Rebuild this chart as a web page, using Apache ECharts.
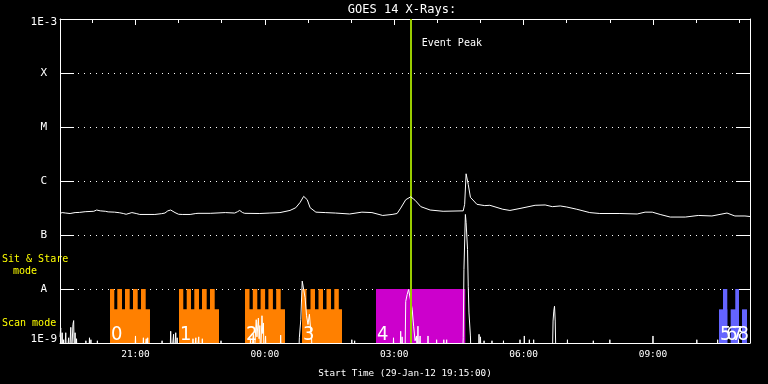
<!DOCTYPE html>
<html><head><meta charset="utf-8">
<script src="https://cdn.jsdelivr.net/npm/echarts@6/dist/echarts.min.js"></script>
<style>html,body{margin:0;padding:0;background:#000}#c{width:768px;height:384px}</style>
</head><body><div id="c"></div><script>
// ---------- data ----------
const startTime = "19:15", endTime = "11:15";
const xTickHours = ["20:00","21:00","22:00","23:00","00:00","01:00","02:00","03:00","04:00","05:00","06:00","07:00","08:00","09:00","10:00","11:00"];
const xLabelHours = ["21:00","00:00","03:00","06:00","09:00"];
const yLevelExp = [-9,-8,-7,-6,-5,-4,-3];
const yLevelLabels = ["1E-9","A","B","C","M","X","1E-3"];

// GOES 1-8 A channel
const longTime = ["19:15","19:18","19:23","19:29","19:36","19:42","19:50","20:02","20:06","20:11","20:18","20:22","20:31","20:38","20:43","20:47","20:55","21:01","21:06","21:27","21:36","21:41","21:45","21:49","21:55","22:00","22:05","22:16","22:24","22:27","22:44","23:05","23:18","23:22","23:25","23:29","23:32","23:53","00:07","00:21","00:35","00:43","00:49","00:54","00:59","01:03","01:11","01:24","01:38","01:58","02:15","02:29","02:44","02:57","03:04","03:09","03:16","03:23","03:29","03:37","03:50","04:08","04:36","04:38","04:40","04:43","04:46","04:55","05:06","05:13","05:31","05:41","05:55","06:16","06:30","06:40","06:51","07:00","07:14","07:32","07:46","08:14","08:38","08:49","08:59","09:10","09:24","09:45","10:03","10:22","10:43","10:54","11:08","11:15"];
const longFlux = [2.5e-7,2.6e-7,2.55e-7,2.5e-7,2.6e-7,2.62e-7,2.7e-7,2.75e-7,2.9e-7,2.8e-7,2.75e-7,2.68e-7,2.65e-7,2.58e-7,2.5e-7,2.42e-7,2.6e-7,2.5e-7,2.4e-7,2.4e-7,2.48e-7,2.55e-7,2.8e-7,2.9e-7,2.6e-7,2.42e-7,2.4e-7,2.4e-7,2.5e-7,2.52e-7,2.52e-7,2.6e-7,2.55e-7,2.7e-7,2.85e-7,2.6e-7,2.52e-7,2.5e-7,2.55e-7,2.6e-7,2.85e-7,3.2e-7,4.0e-7,5.2e-7,4.5e-7,3.2e-7,2.65e-7,2.6e-7,2.55e-7,2.45e-7,2.65e-7,2.6e-7,2.3e-7,2.4e-7,2.5e-7,3.15e-7,4.5e-7,5.1e-7,4.4e-7,3.35e-7,2.9e-7,2.75e-7,2.8e-7,3.7e-7,1.36e-6,8.6e-7,5.0e-7,3.7e-7,3.5e-7,3.55e-7,3.0e-7,2.85e-7,3.1e-7,3.55e-7,3.6e-7,3.35e-7,3.45e-7,3.3e-7,3.0e-7,2.6e-7,2.5e-7,2.5e-7,2.45e-7,2.65e-7,2.65e-7,2.4e-7,2.15e-7,2.15e-7,2.3e-7,2.25e-7,2.55e-7,2.25e-7,2.25e-7,2.2e-7];

// GOES 0.5-4 A channel (mostly below 1E-9; 5e-10 = below the axis floor)
const shortTime = ["19:15","19:16","19:17","19:18","19:19","19:20","19:21","19:22","19:23","19:24","19:26","19:27","19:28","19:29","19:30","19:31","19:32","19:33","19:34","19:35","19:36","19:37","19:38","19:39",
 "19:50","19:51","19:52","19:55","19:56","19:57","19:58","19:59","20:06","20:07","20:08",
 "20:59","21:00","21:01","21:10","21:11","21:12","21:14","21:15","21:16","21:17","21:18",
 "21:36","21:37","21:38","21:48","21:49","21:50","21:52","21:53","21:54","21:55","21:56","21:57","21:58","21:59",
 "22:19","22:20","22:21","22:23","22:24","22:25","22:27","22:28","22:29","22:32","22:33","22:34","22:58","22:59","23:00",
 "23:39","23:40","23:41","23:43","23:44","23:45","23:47","23:48","23:49","23:51","23:52","23:53","23:54","23:55","23:56","23:57","23:58","23:59","00:00","00:01","00:02",
 "00:21","00:22","00:23","00:47","00:48","00:50","00:52","00:54","00:56","00:58","01:00","01:02","01:04","01:05","01:06",
 "02:00","02:01","02:02","02:04","02:05","02:06","02:58","02:59","03:00","03:08","03:09","03:10","03:11","03:12",
 "03:15","03:16","03:18","03:20","03:22","03:25","03:27","03:29","03:31","03:32","03:33","03:34","03:35","03:36","03:37",
 "03:46","03:47","03:48","03:58","03:59","04:00","04:08","04:09","04:10","04:12","04:13","04:14",
 "04:35","04:36","04:37","04:39","04:40","04:42","04:43","04:44","04:46","04:47",
 "04:57","04:58","04:59","05:00","05:01","05:04","05:05","05:06","05:15","05:16","05:17","05:31","05:32","05:33",
 "05:54","05:55","05:56","06:00","06:01","06:02","06:07","06:08","06:09","06:13","06:14","06:15",
 "06:40","06:41","06:42","06:43","06:44","06:45","07:00","07:01","07:02","07:36","07:37","07:38","07:59","08:00","08:01",
 "08:59","09:00","09:01","10:00","10:01","10:02","10:29","10:30","10:31","10:58","10:59","11:00","11:15"];
const shortFlux = [1.3e-9,1.9e-9,5e-10,1.55e-9,5e-10,1.15e-9,5e-10,5e-10,1.55e-9,5e-10,5e-10,1.25e-9,5e-10,5e-10,1.95e-9,5e-10,5e-10,2.2e-9,2.6e-9,5e-10,1.55e-9,5e-10,1.2e-9,5e-10,
 5e-10,1.1e-9,5e-10,5e-10,1.25e-9,5e-10,1.15e-9,5e-10,5e-10,1.1e-9,5e-10,
 5e-10,1.35e-9,5e-10,5e-10,1.25e-9,5e-10,5e-10,1.2e-9,5e-10,1.25e-9,5e-10,
 5e-10,1.1e-9,5e-10,5e-10,1.65e-9,5e-10,5e-10,1.45e-9,5e-10,5e-10,1.55e-9,5e-10,1.25e-9,5e-10,
 5e-10,1.2e-9,5e-10,5e-10,1.25e-9,5e-10,5e-10,1.3e-9,5e-10,5e-10,1.2e-9,5e-10,5e-10,1.1e-9,5e-10,
 5e-10,1.2e-9,5e-10,5e-10,1.45e-9,5e-10,5e-10,2.7e-9,1.3e-9,2.9e-9,1.2e-9,2.1e-9,5e-10,5e-10,3.2e-9,1.5e-9,2.35e-9,5e-10,5e-10,1.35e-9,5e-10,
 5e-10,1.4e-9,5e-10,5e-10,1.25e-9,2.7e-9,1.4e-8,1.3e-8,6.9e-9,3.2e-9,2.2e-9,3.4e-9,1.6e-9,1.25e-9,5e-10,
 5e-10,1.15e-9,5e-10,5e-10,1.1e-9,5e-10,5e-10,1.25e-9,5e-10,5e-10,1.65e-9,5e-10,1.3e-9,5e-10,
 5e-10,5.9e-9,7.9e-9,9.8e-9,9.0e-9,4.2e-9,2.05e-9,1.1e-9,1.35e-9,5e-10,2.05e-9,5e-10,5e-10,1.35e-9,5e-10,
 5e-10,1.35e-9,5e-10,5e-10,1.15e-9,5e-10,5e-10,1.15e-9,5e-10,5e-10,1.15e-9,5e-10,
 5e-10,1.25e-9,2.3e-8,2.4e-7,1.7e-7,5.4e-8,1.1e-8,3.6e-9,1.35e-9,5e-10,
 5e-10,1.45e-9,5e-10,1.3e-9,5e-10,5e-10,1.1e-9,5e-10,5e-10,1.1e-9,5e-10,5e-10,1.1e-9,5e-10,
 5e-10,1.15e-9,5e-10,5e-10,1.35e-9,5e-10,5e-10,1.15e-9,5e-10,5e-10,1.15e-9,5e-10,
 5e-10,2.55e-9,3.9e-9,4.8e-9,2.55e-9,5e-10,5e-10,1.15e-9,5e-10,5e-10,1.1e-9,5e-10,5e-10,1.15e-9,5e-10,
 5e-10,1.35e-9,5e-10,5e-10,1.15e-9,5e-10,5e-10,1.15e-9,5e-10,5e-10,1.15e-9,5e-10,5e-10];

// observation blocks: scan mode parts and sit & stare parts
const scanLevel = 4.2e-9, stareLevel = 1e-8;
const scanStart = ["20:24:34","22:00:34","23:32:23","00:51:42","10:31:54","10:48:06","11:03:54"];
const scanEnd   = ["21:20:13","22:56:13","00:28:02","01:47:21","10:43:24","10:59:42","11:10:48"];
const scanColor = ["#ff8000","#ff8000","#ff8000","#ff8000","#6464ff","#6464ff","#6464ff"];
const stareStart = ["20:24:34","20:34:43","20:45:26","20:56:34","21:07:42",
                    "22:00:34","22:11:17","22:21:51","22:32:34","22:43:42",
                    "23:32:23","23:43:14","23:54:06","00:04:57","00:15:48",
                    "00:51:42","01:03:30","01:14:38","01:25:48","01:36:38",
                    "02:34:39","10:37:28","10:54:30"];
const stareEnd   = ["20:30:33","20:41:16","20:51:58","21:03:06","21:14:14",
                    "22:06:32","22:17:16","22:28:23","22:39:06","22:50:14",
                    "23:38:39","23:49:30","00:00:22","00:11:13","00:22:04",
                    "00:57:58","01:09:47","01:20:54","01:32:02","01:42:53",
                    "04:38:53","10:43:24","10:59:42"];
const stareColor = ["#ff8000","#ff8000","#ff8000","#ff8000","#ff8000",
                    "#ff8000","#ff8000","#ff8000","#ff8000","#ff8000",
                    "#ff8000","#ff8000","#ff8000","#ff8000","#ff8000",
                    "#ff8000","#ff8000","#ff8000","#ff8000","#ff8000",
                    "#cc00cc","#6464ff","#6464ff"];
const blockLabel = ["0","1","2","3","4","5","6","7","8"];
const blockLabelTime = ["20:24:34","22:00:34","23:32:23","00:51:42","02:34:39","10:31:54","10:40:12","10:47:54","10:56:12"];
const eventPeakTime = "03:23";

// ---------- helpers ----------
function toMin(s){ const p = s.split(':').map(Number); let h = p[0]; if (h < 12) h += 24; return h*60 + p[1] + (p[2]||0)/60; }
function fmtHour(v){ const h = Math.round(v/60) % 24; return (h<10?'0':'') + h + ':00'; }
const MONO = '"DejaVu Sans Mono", monospace';
const T0 = toMin(startTime), T1 = toMin(endTime);

const blockData = [];
scanStart.forEach((s,i)=>blockData.push({value:[toMin(s), toMin(scanEnd[i]), scanLevel], itemStyle:{color:scanColor[i]}}));
stareStart.forEach((s,i)=>blockData.push({value:[toMin(s), toMin(stareEnd[i]), stareLevel], itemStyle:{color:stareColor[i]}}));
const labelData = blockLabel.map((l,i)=>({value:[toMin(blockLabelTime[i]), 1e-9], name:l}));

const chart = echarts.init(document.getElementById('c'), null, {renderer:'canvas'});
const yAxisBase = {
  type:'log', logBase:10, min:1e-9, max:1e-3,
  axisLine:{show:true, onZero:false, lineStyle:{color:'#fff', width:1}},
  axisTick:{show:true, inside:true, length:14, lineStyle:{color:'#fff', width:1}},
  minorTick:{show:false}
};
const option = {
  backgroundColor:'#000',
  animation:false,
  grid:{left:60, right:18, top:19, bottom:41, containLabel:false},
  xAxis:[
    {type:'value', min:T0, max:T1, position:'bottom',
     axisLine:{show:true, onZero:false, lineStyle:{color:'#fff', width:1}},
     axisTick:{show:false}, splitLine:{show:false},
     axisLabel:{color:'#fff', fontFamily:MONO, fontSize:9.5, margin:7,
       customValues: xLabelHours.map(toMin), formatter: fmtHour},
     name:'Start Time (29-Jan-12 19:15:00)', nameLocation:'middle', nameGap:26,
     nameTextStyle:{color:'#fff', fontFamily:MONO, fontSize:9.3}},
    {type:'value', min:T0, max:T1, position:'top',
     axisLine:{show:true, onZero:false, lineStyle:{color:'#fff', width:1}},
     axisTick:{show:true, inside:true, length:4, customValues: xTickHours.map(toMin), lineStyle:{color:'#fff'}},
     axisLabel:{show:false}, splitLine:{show:false}},
    {type:'value', min:T0, max:T1, position:'top',
     axisLine:{show:false},
     axisTick:{show:true, inside:true, length:6, customValues: xLabelHours.map(toMin), lineStyle:{color:'#fff'}},
     axisLabel:{show:false}, splitLine:{show:false}}
  ],
  yAxis:[
    Object.assign({}, yAxisBase, {position:'left',
      splitLine:{show:true, lineStyle:{color:'#fff', width:1, type:[1,5]}},
      axisLabel:{color:'#fff', fontFamily:MONO, fontSize:11, margin:3,
        formatter:(v)=>{ const e = Math.round(Math.log10(v)); const i = yLevelExp.indexOf(e); const t = yLevelLabels[i];
          if (e === -3) return '{top|'+t+'}'; if (e === -9) return '{bot|'+t+'}'; return '{let|'+t+'}'; },
        rich:{
          top:{color:'#fff', fontFamily:MONO, fontSize:11, padding:[7,0,0,0]},
          bot:{color:'#fff', fontFamily:MONO, fontSize:11, padding:[0,0,7,0]},
          let:{color:'#fff', fontFamily:MONO, fontSize:11, padding:[0,10,0,0]}
        }}}),
    Object.assign({}, yAxisBase, {position:'right', splitLine:{show:false}, axisLabel:{show:false}})
  ],
  series:[
    {type:'custom', name:'blocks', xAxisIndex:0, yAxisIndex:0, z:2, clip:true,
     encode:{x:[0,1], y:2},
     renderItem:(params, api)=>{
       const p0 = api.coord([api.value(0), api.value(2)]);
       const p1 = api.coord([api.value(1), 1e-9]);
       return {type:'rect', shape:{x:p0[0], y:p0[1], width:p1[0]-p0[0], height:p1[1]-p0[1]},
               style:{fill:api.visual('color')}};
     },
     data:blockData},
    {type:'custom', name:'labels', xAxisIndex:0, yAxisIndex:0, z:3,
     encode:{x:0, y:1},
     renderItem:(params, api)=>{
       const p = api.coord([api.value(0), api.value(1)]);
       return {type:'text', x:p[0]+1, y:p[1]-8,
               style:{text:labelData[params.dataIndex].name, fill:'#fff',
                      font:'20px "Liberation Sans Narrow", "DejaVu Sans Condensed", sans-serif',
                      textAlign:'left', textVerticalAlign:'middle'}};
     },
     data:labelData},
    {type:'line', name:'short', xAxisIndex:0, yAxisIndex:0, z:4, clip:true,
     showSymbol:false, symbol:'none',
     lineStyle:{color:'#fff', width:1}, itemStyle:{color:'#fff'},
     data:shortTime.map((t,i)=>[toMin(t), shortFlux[i]])},
    {type:'line', name:'long', xAxisIndex:0, yAxisIndex:0, z:5, clip:true,
     showSymbol:false, symbol:'none',
     lineStyle:{color:'#fff', width:1}, itemStyle:{color:'#fff'},
     data:longTime.map((t,i)=>[toMin(t), longFlux[i]])},
    {type:'line', name:'event', xAxisIndex:0, yAxisIndex:0, z:6, data:[],
     markLine:{silent:true, symbol:['none','none'], label:{show:false},
       lineStyle:{color:'#99cc00', width:2, type:'solid'},
       data:[{xAxis: toMin(eventPeakTime)}]}}
  ],
  graphic:[
    {type:'text', id:'title', x:402, y:10, style:{text:'GOES 14 X-Rays:', fill:'#fff', font:'12px '+MONO, textAlign:'center', textVerticalAlign:'middle'}},
    {type:'text', id:'ss1', x:2, y:259, style:{text:'Sit & Stare', fill:'#ffff00', font:'10px '+MONO, textAlign:'left', textVerticalAlign:'middle'}},
    {type:'text', id:'ss2', x:13, y:271, style:{text:'mode', fill:'#ffff00', font:'10px '+MONO, textAlign:'left', textVerticalAlign:'middle'}},
    {type:'text', id:'sc', x:2, y:323, style:{text:'Scan mode', fill:'#ffff00', font:'10px '+MONO, textAlign:'left', textVerticalAlign:'middle'}}
  ]
};
chart.setOption(option);
const ex = chart.convertToPixel({xAxisIndex:0}, toMin(eventPeakTime));
chart.setOption({graphic:[{type:'text', id:'ev', x:ex+11, y:43, style:{text:'Event Peak', fill:'#fff', font:'10px '+MONO, textAlign:'left', textVerticalAlign:'middle'}}]});
</script></body></html>
